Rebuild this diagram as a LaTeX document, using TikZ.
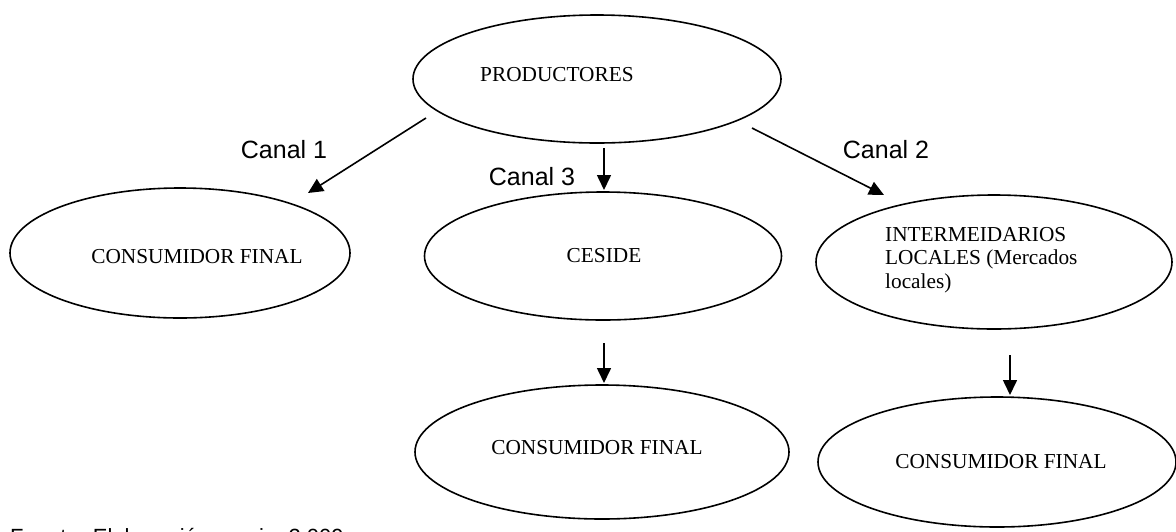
\documentclass[tikz,border=0pt]{standalone}
\usepackage{fontspec}
\setmainfont{Liberation Serif}
\newfontfamily\arial{Liberation Sans}
\usetikzlibrary{shapes.geometric,arrows.meta}
\begin{document}
\begin{tikzpicture}[x=1pt,y=-1pt,
  ell/.style={draw,ellipse,line width=1.6pt,inner sep=0pt},
  txt/.style={font=\fontsize{21.3}{23.5}\selectfont,inner sep=0pt,align=left},
  lab/.style={font=\arial\fontsize{25}{28}\selectfont,inner sep=0pt},
  arr/.style={line width=1.6pt,-{Triangle[length=15pt,width=14pt]}}]
\useasboundingbox (0,0) rectangle (1176,531);
% ellipses
\node[ell,minimum width=368pt,minimum height=128pt] (prod) at (597,79) {};
\node[ell,minimum width=340pt,minimum height=130pt] (cf1) at (180,253) {};
\node[ell,minimum width=357pt,minimum height=128pt] (ces) at (603,256) {};
\node[ell,minimum width=356pt,minimum height=134pt] (inter) at (994,262) {};
\node[ell,minimum width=374pt,minimum height=134pt] (cf2) at (602,452) {};
\node[ell,minimum width=358pt,minimum height=130pt] (cf3) at (997,462) {};
% texts
\node[txt,anchor=west] (tprod) at (480,75) {PRODUCTORES};
\node[txt] (tcf1) at (197,257) {CONSUMIDOR FINAL};
\node[txt] (tces) at (604,256) {CESIDE};
\node[txt,anchor=north west] (tinter) at (885,227) {INTERMEIDARIOS\\LOCALES (Mercados\\locales)};
\node[txt] (tcf2) at (597,448) {CONSUMIDOR FINAL};
\node[txt] (tcf3) at (1001,462) {CONSUMIDOR FINAL};
% labels
\node[lab] (c1) at (284,150) {Canal 1};
\node[lab] (c3) at (532,177) {Canal 3};
\node[lab] (c2) at (886,150) {Canal 2};
% arrow ends
\coordinate (a1s) at (426,118); \coordinate (a1e) at (308,193);
\coordinate (a3s) at (604,148); \coordinate (a3e) at (604,190);
\coordinate (a2s) at (752,128); \coordinate (a2e) at (884,195);
\coordinate (a4s) at (604,343); \coordinate (a4e) at (604,383);
\coordinate (a5s) at (1010,355); \coordinate (a5e) at (1010,395);
\draw[arr] (a1s) -- (a1e);
\draw[arr] (a3s) -- (a3e);
\draw[arr] (a2s) -- (a2e);
\draw[arr] (a4s) -- (a4e);
\draw[arr] (a5s) -- (a5e);
% footer
\node[font=\arial\fontsize{22}{24}\selectfont,inner sep=0pt,anchor=base west] (fuente) at (10,544) {Fuente: Elaboración propia, 2.009};
\end{tikzpicture}
\end{document}
